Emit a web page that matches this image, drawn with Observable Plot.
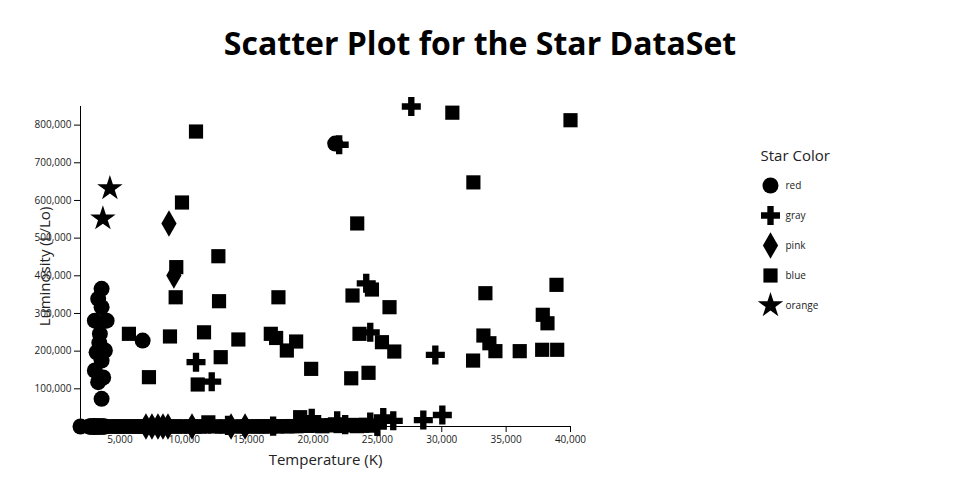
<!DOCTYPE html>
<html>
<head>
<meta charset="utf-8">
<script src="https://cdn.jsdelivr.net/npm/d3@7"></script>
<script src="https://cdn.jsdelivr.net/npm/@observablehq/plot@0.6"></script>
<style>
  body { margin: 0; background: #fff; }
  #wrap { position: relative; width: 960px; height: 500px; font-family: "Open Sans", sans-serif; }
  #title { position: absolute; left: 0; top: 21px; width: 960px; text-align: center;
           font: bold 32px "Open Sans", sans-serif; color: #000; line-height: 44px; }
  #chart { position: absolute; left: 0; top: 90px; }
  #legend { position: absolute; left: 740px; top: 130px; }
</style>
</head>
<body>
<div id="wrap">
  <div id="title">Scatter Plot for the Star DataSet</div>
  <div id="chart"></div>
  <div id="legend"></div>
</div>
<script>
// ---- data ----
const categories = ["red", "gray", "pink", "blue", "orange"];
const symbolNames = ["circle", "cross", "diamond", "square", "star"];
const xTicks = [5000, 10000, 15000, 20000, 25000, 30000, 35000, 40000];
const yTicks = [100000, 200000, 300000, 400000, 500000, 600000, 700000, 800000];

const redTemp = [1939, 2621, 2650, 2700, 2774, 2835, 2890, 2935, 2968, 3007, 3042, 3095, 3134, 3150, 3192, 3218, 3295, 3341, 3399, 3450, 3523, 3598, 3625, 3692, 3780, 3834,
                 3577, 3312, 3577, 3055, 3966, 3444, 3400, 3188, 3833, 3577, 3055, 3700, 3312, 3577, 6765, 21723];
const redLum  = [0.0001, 0.0006, 0.0007, 0.0012, 0.0009, 0.0002, 0.0036, 0.0013, 0.0011, 0.0024, 0.0015, 0.0056, 0.0029, 0.0041, 0.0036, 0.0054, 0.0017, 0.0087, 0.0032, 0.0025, 0.0054, 0.0063, 0.0009, 0.0047, 0.0065, 0.0077,
                 365500, 339000, 316700, 281000, 281000, 246000, 222000, 197000, 201700, 175000, 148600, 130000, 117600, 73500, 228000, 751000];

const grayTemp = [27634, 22033, 10911, 12132, 24134, 24445, 29500, 28567, 30044, 13400, 16900, 19900, 21878, 22500, 24444, 25000, 25456, 26233];
const grayLum  = [849420, 748000, 170700, 119000, 380000, 250000, 190000, 17000, 30500, 3000, 1000, 22000, 15000, 5000, 12000, 0.5, 24000, 15000];

const pinkTemp = [8811, 9192, 7022, 7489, 7956, 8345, 8733, 10600, 13633, 14722];
const pinkLum  = [539000, 401000, 0.0006, 0.0011, 0.0004, 0.0009, 0.0015, 0.0003, 0.0008, 0.0012];

const blueTemp = [30822, 40000, 10911, 32456, 23433, 9822, 9378, 12647, 9332, 12700, 17313, 5700, 8889, 11533, 14201, 16721, 17134, 18689, 17966, 12830, 11043, 7256, 19856,
                  23067, 24577, 25942, 23611, 25354, 26312, 22967, 24312, 33389, 38911, 37846, 38212, 33235, 33700, 34167, 36056, 37800, 38966, 32434,
                  4067, 4611, 5156, 5778, 6322, 6867, 7722, 9044, 9667, 11222, 11870, 12389, 12933, 14178, 15344, 16044, 16667, 17678, 18378, 19000, 20400, 21022, 21722, 23044, 23822,
                  4310, 4890, 5460, 6050, 6610, 7120, 7410, 8120, 8530, 9310, 10140, 10520, 10830, 11530, 13290, 14520, 14930, 15720, 16310, 17240, 18020, 18730, 19520, 20130, 20720, 21410, 22130, 22610, 23420, 24120, 24630];
const blueLum  = [833000, 813000, 783000, 648000, 539000, 594600, 423000, 452000, 343000, 332600, 343000, 246000, 239000, 250000, 231000, 246000, 235000, 225600, 201700, 184000, 111500, 130900, 153000,
                  347700, 363600, 316700, 246000, 223800, 199000, 128000, 142500, 353800, 376000, 296500, 274000, 241500, 221000, 200000, 200000, 203600, 203600, 175000,
                  0.85, 1.2, 2.1, 0.4, 3.5, 6.2, 1.9, 12, 8.5, 32, 11000, 45, 92, 120, 210, 68, 350, 880, 1200, 24700, 2400, 3100, 5600, 4200, 1800,
                  0.6, 1.5, 0.9, 2.7, 4.1, 0.3, 5.5, 9.8, 14, 22, 0.7, 1.1, 18, 60, 35, 150, 77, 260, 410, 95, 520, 730, 1500, 2900, 640, 3800, 1100, 2600, 900, 4700, 2200];

const orangeTemp = [4222, 3678];
const orangeLum  = [632000, 552000];

// ---- build rows ----
const series = {
  red: [redTemp, redLum], gray: [grayTemp, grayLum], pink: [pinkTemp, pinkLum],
  blue: [blueTemp, blueLum], orange: [orangeTemp, orangeLum]
};
const rows = [];
for (const c of categories) {
  const [t, l] = series[c];
  t.forEach((v, i) => rows.push({temperature: v, luminosity: l[i], color: c}));
}

const chart = Plot.plot({
  width: 960,
  height: 410,
  marginLeft: 80,
  marginRight: 390,
  marginTop: 16,
  marginBottom: 74,
  style: {fontFamily: "Open Sans, sans-serif", fontSize: "10px", color: "#222", background: "white"},
  x: {domain: d3.extent(rows, d => d.temperature)},
  y: {domain: [0, d3.max(rows, d => d.luminosity)]},
  symbol: {domain: categories, range: symbolNames},
  marks: [
    Plot.ruleY([0], {stroke: "black"}),
    Plot.ruleX([d3.min(rows, d => d.temperature)], {stroke: "black"}),
    Plot.axisX({ticks: xTicks, tickFormat: d3.format(","), tickSize: 6, label: null, stroke: "black"}),
    Plot.axisY({ticks: yTicks, tickFormat: d3.format(","), tickSize: 6, label: null, stroke: "black"}),
    Plot.dot(rows, {x: "temperature", y: "luminosity", symbol: "color", fill: "black", r: 8}),
    Plot.text(["Temperature (K)"], {frameAnchor: "bottom", dy: 34, lineAnchor: "middle", textAnchor: "middle", fontSize: 15, fill: "#222"}),
    Plot.text(["Luminosity (L/Lo)"], {frameAnchor: "left", dx: -35, rotate: -90, lineAnchor: "middle", textAnchor: "middle", fontSize: 15, fill: "#222"})
  ]
});
document.getElementById("chart").append(chart);

const legend = Plot.plot({
  width: 140,
  height: 200,
  margin: 0,
  style: {fontFamily: "Open Sans, sans-serif", fontSize: "10px", color: "#222", background: "white"},
  x: {domain: [0, 1], range: [30, 130], axis: null},
  y: {type: "point", domain: categories, range: [55, 175], padding: 0, axis: null},
  symbol: {domain: categories, range: symbolNames},
  marks: [
    Plot.dot(categories, {x: 0, y: d => d, symbol: d => d, fill: "black", r: 8}),
    Plot.text(categories, {x: 0, y: d => d, text: d => d, dx: 15, textAnchor: "start", lineAnchor: "middle", fontSize: 10, fill: "#222"}),
    Plot.text(["Star Color"], {frameAnchor: "top-left", dx: 20, dy: 26, textAnchor: "start", lineAnchor: "middle", fontSize: 15, fill: "#222"})
  ]
});
document.getElementById("legend").append(legend);
</script>
</body>
</html>
